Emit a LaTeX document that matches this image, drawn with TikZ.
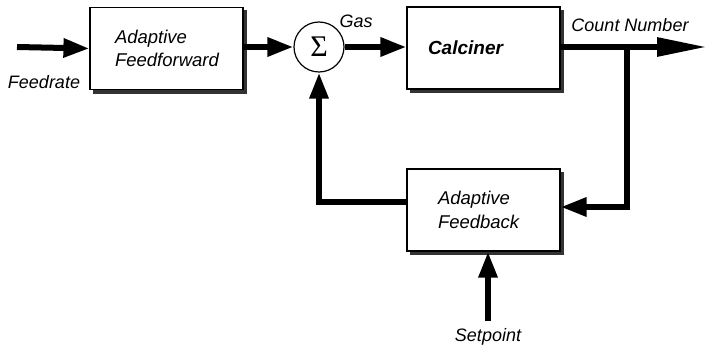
\documentclass[tikz,border=0pt]{standalone}
\usepackage{fontspec}
\setmainfont{Liberation Sans}
\newfontfamily\sigfont{Liberation Serif}
\usetikzlibrary{arrows.meta,backgrounds}
\begin{document}
\begin{tikzpicture}[x=1pt,y=-1pt,
  blk/.style={draw=black,line width=1.2pt,fill=white,minimum height=82pt,
    align=left,font=\fontsize{18.5}{23.5}\selectfont\itshape},
  lbl/.style={font=\fontsize{18}{23}\selectfont\itshape},
  flow/.style={line width=6pt,-{Triangle[length=26pt,width=18pt]}},
  longflow/.style={line width=6pt,-{Triangle[length=50pt,width=18pt]}},
  shadowbox/.style={fill=black!80}]
\useasboundingbox (0,0) rectangle (711,347);
\node[blk,minimum width=153pt,text width=103pt,inner xsep=25pt] (ff) at (166.5,48.5) {Adaptive\\Feedforward};
\node[blk,minimum width=153pt,text width=111pt,inner xsep=21pt,font=\fontsize{19}{23}\selectfont\bfseries\itshape] (calc) at (483.5,48) {Calciner};
\node[blk,minimum width=153pt,text width=91pt,inner xsep=31pt] (fb) at (483.5,210) {Adaptive\\Feedback};
\node[draw=black,line width=1.2pt,circle,minimum size=50pt,inner sep=0pt,fill=white] (sum) at (319,47) {\sigfont\fontsize{30}{30}\selectfont Σ};
\begin{scope}[on background layer]
\foreach \b in {ff,calc,fb}
  \fill[shadowbox] ([shift={(3.5pt,-3.5pt)}]\b.south west) rectangle ([shift={(3.5pt,-3.5pt)}]\b.north east);
\end{scope}
\coordinate (in) at (17,47);
\coordinate (out) at (707,47);
\coordinate (br) at (627,47);
\coordinate (spstart) at (488,321);
\node[lbl] (feed) at (44,82) {Feedrate};
\node[lbl] (gas) at (356,21) {Gas};
\node[lbl] (cn) at (630,25) {Count Number};
\node[lbl] (sp) at (488,337) {Setpoint};
\draw[flow] (in) -- (ff.west);
\draw[flow] (ff.east |- sum.west) -- (sum.west);
\draw[flow] (sum.east) -- (calc.west |- sum.east);
\draw[longflow] (calc.east |- out) -- (out);
\draw[flow] (br) |- ([yshift=3pt]fb.east);
\draw[flow] ([yshift=8pt]fb.west) -| (sum.south);
\draw[flow] (spstart) -- (spstart |- fb.south);
\end{tikzpicture}
\end{document}
